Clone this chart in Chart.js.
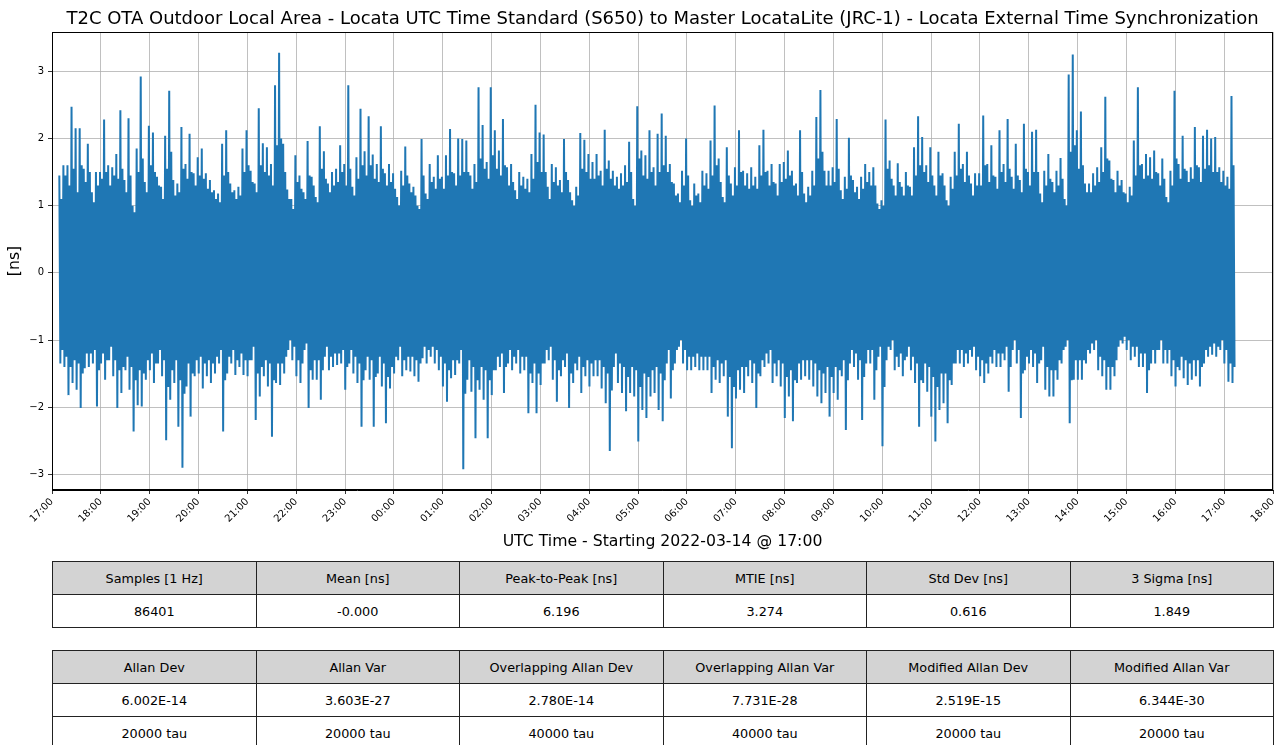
<!DOCTYPE html>
<html>
<head>
<meta charset="utf-8">
<script src="https://cdn.jsdelivr.net/npm/chart.js@4.4.1/dist/chart.umd.min.js"></script>
<style>
  body { margin: 0; background: #fff; font-family: "DejaVu Sans", sans-serif; }
  #wrap { position: relative; width: 1277px; height: 552px; }
  table { position: absolute; left: 52px; width: 1222px; border-collapse: collapse; table-layout: fixed; font-size: 12.8px; color: #000; }
  td { border: 1px solid #222; text-align: center; height: 32px; padding: 0; }
  tr.head td { background: #d3d3d3; }
</style>
</head>
<body>
<div id="wrap"><canvas id="chart" width="1277" height="552"></canvas></div>
<table id="t1" style="top:561px"></table>
<table id="t2" style="top:650px"></table>
<script>
// time axis: hours since 2022-03-14 17:00, one tick per hour
const xTickLabels = ['17:00','18:00','19:00','20:00','21:00','22:00','23:00','00:00','01:00','02:00','03:00','04:00','05:00',
  '06:00','07:00','08:00','09:00','10:00','11:00','12:00','13:00','14:00','15:00','16:00','17:00','18:00'];
const yTickValues = [-3, -2, -1, 0, 1, 2, 3];

// record starts 9 min after 17:00; trace read in 5 minute bins
const startMinute = 9;
const binMinutes = 5;

// highest excursion in each bin [ns]
const binHigh = [
  1.45, 1.6, 1.6, 2.47, 2.15, 2.15, 1.55, 1.92, 1.2, 1.5,
  1.5, 2.28, 1.6, 1.57, 1.77, 2.42, 1.38, 2.3, 1.0, 1.85,
  2.92, 1.35, 2.19, 2.09, 1.43, 1.28, 2.04, 2.71, 1.38, 1.33,
  2.17, 1.62, 2.07, 1.48, 1.72, 1.85, 1.48, 1.38, 1.23, 1.18,
  1.92, 2.12, 1.33, 1.23, 1.28, 1.85, 2.12, 1.52, 1.33, 2.45,
  1.93, 1.87, 1.62, 2.79, 3.274, 1.92, 1.24, 1.1, 1.75, 1.45,
  1.2, 1.96, 1.43, 1.13, 2.18, 1.81, 1.33, 1.5, 1.55, 1.9,
  1.62, 2.79, 1.28, 1.72, 2.44, 1.81, 2.33, 1.76, 1.62, 2.18,
  1.48, 1.62, 1.48, 1.13, 1.52, 1.88, 1.33, 1.28, 1.0, 1.99,
  1.18, 1.62, 1.43, 1.75, 1.43, 1.75, 2.14, 1.48, 2.0,
  1.99, 1.97, 1.45, 1.62, 2.76, 2.2, 1.65, 2.76, 2.12, 1.82,
  2.29, 1.57, 1.62, 1.23, 1.5, 1.43, 1.4, 1.77, 2.5, 2.09,
  2.06, 1.28, 1.62, 1.57, 1.38, 1.99, 1.38, 1.08, 1.28, 2.08,
  1.98, 1.77, 1.65, 1.77, 1.52, 2.13, 1.67, 1.52, 1.43, 1.48,
  1.6, 1.95, 1.1, 2.48, 1.82, 1.75, 2.12, 1.57, 2.07,
  2.37, 2.04, 1.62, 1.33, 1.18, 1.52, 2.0, 1.08, 1.33, 1.18,
  1.52, 1.48, 1.97, 2.49, 1.7, 1.13, 1.87, 1.33, 1.57, 2.12,
  1.52, 1.48, 1.57, 1.43, 1.9, 2.13, 1.52, 1.62, 1.33, 1.62,
  1.65, 1.82, 1.52, 1.33, 2.12, 1.18, 1.28, 1.52, 2.32, 2.72,
  1.52, 1.52, 1.57, 2.29, 1.23, 1.43, 2.01, 1.38, 1.28,
  1.43, 1.62, 1.5, 1.57, 1.03, 1.08, 2.28, 1.67, 1.3, 1.63,
  1.28, 1.5, 1.28, 1.87, 2.33, 2.02, 1.6, 1.87, 1.3, 1.8,
  1.48, 1.08, 1.43, 1.8, 2.22, 1.62, 1.8, 1.33, 1.48, 1.48,
  2.34, 1.62, 1.9, 1.43, 2.12, 1.62, 2.29, 1.43, 1.92, 1.38,
  2.22, 1.5, 2.1, 2.13, 1.18, 1.52, 1.77, 1.35, 1.52,
  1.71, 1.1, 2.95, 3.25, 2.12, 2.4, 1.33, 1.33, 1.48, 1.57,
  1.87, 2.62, 1.67, 1.38, 1.52, 1.38, 1.18, 1.28, 1.97, 2.76,
  1.62, 1.77, 1.72, 1.82, 1.48, 1.7, 1.13, 1.52, 2.71, 1.62,
  2.04, 1.52, 1.57, 2.17, 1.57, 2.04, 2.13, 2.0, 2.02, 1.57,
  1.52, 1.43, 2.63
];

// lowest excursion in each bin [ns]
const binLow = [
  -1.35, -1.4, -1.82, -1.64, -1.74, -2.01, -1.42, -1.4, -1.35, -1.99,
  -1.35, -1.59, -1.3, -1.54, -2.01, -1.79, -1.45, -1.74, -2.36, -1.97,
  -1.99, -1.59, -1.45, -1.64, -1.35, -1.54, -2.49, -1.89, -1.64, -2.29,
  -2.9, -1.69, -2.14, -1.54, -1.5, -1.72, -1.54, -1.64, -1.5, -1.35,
  -2.36, -1.5, -1.35, -1.52, -1.4, -1.52, -1.54, -1.3, -2.19, -1.84,
  -1.54, -1.69, -2.44, -1.64, -1.67, -1.5, -1.15, -1.3, -1.54, -1.64,
  -1.15, -2.01, -1.59, -1.59, -1.89, -1.25, -1.45, -1.4, -1.37, -1.35,
  -1.74, -1.35, -1.5, -1.64, -2.29, -1.45, -1.59, -2.29, -1.5, -1.69,
  -2.24, -1.72, -1.5, -1.3, -1.54, -1.45, -1.47, -1.54, -1.62, -1.27,
  -1.35, -1.25, -1.35, -1.45, -1.69, -1.92, -1.57, -1.52, -1.35,
  -2.922, -1.59, -1.77, -2.46, -1.74, -1.89, -2.46, -1.82, -1.45, -1.4,
  -1.79, -1.35, -1.45, -1.35, -1.5, -1.45, -2.09, -1.64, -2.09, -1.67,
  -1.35, -1.3, -1.59, -1.92, -1.54, -1.4, -2.01, -1.64, -1.45, -1.79,
  -1.54, -1.69, -1.54, -1.54, -1.72, -1.94, -2.65, -1.4, -1.64, -1.79,
  -2.06, -1.79, -1.84, -2.51, -2.04, -2.16, -1.84, -1.79, -2.04,
  -2.21, -1.35, -1.87, -1.35, -1.1, -1.35, -1.45, -1.45, -1.4, -1.45,
  -1.45, -1.45, -1.79, -1.59, -1.64, -1.54, -2.14, -2.61, -1.87, -1.74,
  -1.79, -1.54, -1.64, -2.01, -1.54, -1.4, -1.35, -1.64, -1.54, -1.69,
  -2.16, -1.84, -2.21, -1.64, -1.59, -1.54, -1.59, -1.69, -1.84, -1.94,
  -1.79, -2.14, -1.79, -1.89, -1.54, -2.34, -1.35, -1.4, -1.59,
  -2.19, -1.35, -1.35, -1.89, -1.25, -2.58, -1.3, -1.15, -1.45, -1.4,
  -1.54, -1.25, -1.45, -1.64, -2.29, -1.64, -1.77, -2.14, -2.51, -2.04,
  -1.94, -2.24, -1.67, -1.35, -1.35, -1.4, -1.35, -1.25, -1.45, -1.54,
  -1.64, -1.5, -1.35, -1.4, -1.4, -1.3, -1.77, -1.15, -1.35, -2.16,
  -1.45, -1.35, -1.4, -1.64, -1.3, -1.74, -1.84, -1.84, -1.59,
  -1.35, -1.1, -2.24, -1.59, -1.59, -1.59, -1.35, -1.2, -1.15, -1.45,
  -1.54, -1.74, -1.74, -1.54, -1.1, -1.05, -1.15, -1.3, -1.25, -1.4,
  -1.4, -1.79, -1.35, -1.35, -1.15, -1.35, -1.35, -1.54, -1.69, -1.45,
  -1.57, -1.67, -1.59, -1.54, -1.69, -1.35, -1.25, -1.22, -1.25, -1.15,
  -1.35, -1.62, -1.64
];

// next-highest excursion in each bin (the dense fringe) [ns]
const binHigh2 = [
  1.1, 1.45, 1.3, 1.55, 1.2, 1.6, 1.35, 1.5, 1.05, 1.3,
  1.4, 1.5, 1.3, 1.45, 1.4, 1.55, 1.2, 1.45, 0.9, 1.5,
  1.7, 1.2, 1.6, 1.5, 1.3, 1.1, 1.55, 1.8, 1.15, 1.2,
  1.55, 1.4, 1.5, 1.3, 1.45, 1.4, 1.25, 1.2, 1.1, 1.05,
  1.45, 1.5, 1.2, 1.1, 1.15, 1.5, 1.6, 1.35, 1.2, 1.6,
  1.5, 1.45, 1.3, 1.9, 2.0, 1.5, 1.1, 0.95, 1.35, 1.25,
  1.1, 1.45, 1.3, 1.05, 1.55, 1.4, 1.2, 1.3, 1.35, 1.5,
  1.3, 1.55, 1.15, 1.4, 1.6, 1.45, 1.6, 1.4, 1.35, 1.55,
  1.3, 1.35, 1.25, 1.0, 1.3, 1.45, 1.2, 1.15, 0.95, 1.45,
  1.1, 1.35, 1.25, 1.4, 1.25, 1.45, 1.5, 1.3, 1.45,
  1.5, 1.5, 1.25, 1.35, 1.7, 1.55, 1.4, 1.75, 1.55, 1.45,
  1.6, 1.3, 1.35, 1.1, 1.3, 1.25, 1.2, 1.4, 1.65, 1.5,
  1.5, 1.1, 1.35, 1.3, 1.2, 1.5, 1.2, 1.0, 1.15, 1.55,
  1.5, 1.4, 1.4, 1.45, 1.3, 1.55, 1.4, 1.3, 1.25, 1.3,
  1.35, 1.5, 1.0, 1.7, 1.45, 1.4, 1.5, 1.3, 1.5,
  1.6, 1.5, 1.35, 1.15, 1.05, 1.3, 1.45, 1.0, 1.15, 1.05,
  1.3, 1.25, 1.45, 1.6, 1.35, 1.05, 1.45, 1.15, 1.3, 1.5,
  1.3, 1.25, 1.3, 1.25, 1.45, 1.5, 1.3, 1.35, 1.15, 1.35,
  1.4, 1.45, 1.3, 1.15, 1.5, 1.05, 1.15, 1.3, 1.7, 1.8,
  1.3, 1.3, 1.35, 1.55, 1.1, 1.25, 1.45, 1.2, 1.1,
  1.25, 1.35, 1.3, 1.3, 0.95, 1.0, 1.55, 1.4, 1.15, 1.35,
  1.15, 1.3, 1.15, 1.45, 1.6, 1.5, 1.35, 1.45, 1.15, 1.45,
  1.3, 1.0, 1.25, 1.45, 1.55, 1.35, 1.45, 1.15, 1.3, 1.3,
  1.6, 1.35, 1.45, 1.25, 1.5, 1.35, 1.55, 1.25, 1.45, 1.2,
  1.55, 1.3, 1.5, 1.5, 1.05, 1.3, 1.4, 1.2, 1.3,
  1.4, 1.0, 1.8, 1.9, 1.55, 1.6, 1.2, 1.2, 1.3, 1.35,
  1.5, 1.7, 1.4, 1.2, 1.3, 1.2, 1.05, 1.15, 1.45, 1.6,
  1.4, 1.45, 1.4, 1.5, 1.3, 1.4, 1.05, 1.3, 1.7, 1.4,
  1.55, 1.35, 1.4, 1.6, 1.35, 1.55, 1.6, 1.5, 1.5, 1.35,
  1.3, 1.25, 1.6
];

// next-lowest excursion in each bin [ns]
const binLow2 = [
  -1.15, -1.25, -1.4, -1.3, -1.35, -1.5, -1.2, -1.2, -1.15, -1.45,
  -1.2, -1.3, -1.1, -1.3, -1.45, -1.4, -1.25, -1.4, -1.6, -1.45,
  -1.5, -1.3, -1.2, -1.35, -1.15, -1.3, -1.7, -1.45, -1.3, -1.6,
  -1.8, -1.35, -1.5, -1.3, -1.25, -1.35, -1.3, -1.35, -1.25, -1.15,
  -1.6, -1.25, -1.15, -1.3, -1.2, -1.3, -1.3, -1.1, -1.5, -1.4,
  -1.3, -1.35, -1.6, -1.35, -1.35, -1.25, -1.0, -1.1, -1.3, -1.35,
  -1.05, -1.45, -1.3, -1.3, -1.45, -1.1, -1.25, -1.2, -1.2, -1.15,
  -1.4, -1.15, -1.25, -1.35, -1.6, -1.25, -1.3, -1.55, -1.25, -1.35,
  -1.55, -1.4, -1.25, -1.1, -1.3, -1.25, -1.25, -1.3, -1.35, -1.1,
  -1.15, -1.1, -1.15, -1.25, -1.35, -1.45, -1.3, -1.3, -1.15,
  -1.8, -1.3, -1.4, -1.6, -1.4, -1.45, -1.6, -1.45, -1.25, -1.2,
  -1.4, -1.15, -1.25, -1.15, -1.25, -1.25, -1.5, -1.35, -1.5, -1.35,
  -1.15, -1.1, -1.3, -1.45, -1.3, -1.2, -1.5, -1.35, -1.25, -1.4,
  -1.3, -1.35, -1.3, -1.3, -1.4, -1.5, -1.75, -1.2, -1.35, -1.4,
  -1.55, -1.4, -1.45, -1.7, -1.5, -1.55, -1.45, -1.4, -1.5,
  -1.6, -1.15, -1.45, -1.15, -1.0, -1.15, -1.25, -1.25, -1.2, -1.25,
  -1.25, -1.25, -1.4, -1.3, -1.35, -1.3, -1.55, -1.7, -1.45, -1.4,
  -1.4, -1.3, -1.35, -1.5, -1.3, -1.2, -1.15, -1.35, -1.3, -1.35,
  -1.55, -1.45, -1.6, -1.35, -1.3, -1.3, -1.3, -1.35, -1.45, -1.5,
  -1.4, -1.55, -1.4, -1.45, -1.3, -1.6, -1.15, -1.2, -1.3,
  -1.55, -1.15, -1.15, -1.45, -1.1, -1.7, -1.1, -1.0, -1.25, -1.2,
  -1.3, -1.1, -1.25, -1.35, -1.6, -1.35, -1.4, -1.55, -1.7, -1.5,
  -1.5, -1.6, -1.35, -1.15, -1.15, -1.2, -1.15, -1.1, -1.25, -1.3,
  -1.35, -1.25, -1.15, -1.2, -1.2, -1.1, -1.4, -1.0, -1.15, -1.5,
  -1.25, -1.15, -1.2, -1.35, -1.1, -1.4, -1.45, -1.45, -1.3,
  -1.15, -1.0, -1.6, -1.3, -1.3, -1.3, -1.15, -1.05, -1.0, -1.25,
  -1.3, -1.4, -1.4, -1.3, -1.0, -0.95, -1.0, -1.1, -1.1, -1.2,
  -1.2, -1.45, -1.15, -1.15, -1.0, -1.15, -1.15, -1.3, -1.4, -1.25,
  -1.3, -1.35, -1.3, -1.3, -1.4, -1.15, -1.1, -1.05, -1.1, -1.0,
  -1.15, -1.35, -1.4
];

// statistics tables
const statHeaders = ['Samples [1 Hz]', 'Mean [ns]', 'Peak-to-Peak [ns]', 'MTIE [ns]', 'Std Dev [ns]', '3 Sigma [ns]'];
const statValues = ['86401', '-0.000', '6.196', '3.274', '0.616', '1.849'];
const allanHeaders = ['Allan Dev', 'Allan Var', 'Overlapping Allan Dev', 'Overlapping Allan Var', 'Modified Allan Dev', 'Modified Allan Var'];
const allanValues = ['6.002E-14', '3.603E-27', '2.780E-14', '7.731E-28', '2.519E-15', '6.344E-30'];
const allanTau = ['20000 tau', '20000 tau', '40000 tau', '40000 tau', '20000 tau', '20000 tau'];

function fillTable(id, rows) {
  const t = document.getElementById(id);
  rows.forEach((cells, r) => {
    const tr = document.createElement('tr');
    if (r === 0) tr.className = 'head';
    cells.forEach(c => {
      const td = document.createElement('td');
      td.textContent = c;
      tr.appendChild(td);
    });
    t.appendChild(tr);
  });
}
fillTable('t1', [statHeaders, statValues]);
fillTable('t2', [allanHeaders, allanValues, allanTau]);

// trace: high, low, second high, second low within each bin
const trace = [];
const quarter = binMinutes / 4 / 60;
binHigh.forEach((v, i) => {
  const t0 = (startMinute + i * binMinutes) / 60;
  trace.push({ x: t0, y: v });
  trace.push({ x: t0 + quarter, y: binLow[i] });
  trace.push({ x: t0 + 2 * quarter, y: binHigh2[i] });
  trace.push({ x: t0 + 3 * quarter, y: binLow2[i] });
});

const frame = {
  id: 'frame',
  afterDatasetsDraw(chart) {
    const a = chart.chartArea, ctx = chart.ctx;
    ctx.save();
    ctx.strokeStyle = '#000';
    ctx.lineWidth = 1;
    ctx.strokeRect(a.left + 0.5, a.top + 0.5, a.right - a.left - 1, a.bottom - a.top - 1);
    ctx.restore();
  }
};

new Chart(document.getElementById('chart'), {
  type: 'line',
  data: {
    datasets: [
      { data: trace, borderWidth: 2, pointRadius: 0, borderColor: '#1f77b4', fill: false, tension: 0 }
    ]
  },
  options: {
    responsive: false,
    animation: false,
    layout: { padding: 0 },
    plugins: {
      legend: { display: false },
      tooltip: { enabled: false },
      title: {
        display: true,
        fullSize: false,
        text: 'T2C OTA Outdoor Local Area - Locata UTC Time Standard (S650) to Master LocataLite (JRC-1) - Locata External Time Synchronization',
        color: '#000',
        font: { family: 'DejaVu Sans', size: 18, weight: 'normal' },
        padding: { top: 9, bottom: 1.4 }
      }
    },
    scales: {
      x: {
        type: 'linear',
        min: 0,
        max: xTickLabels.length - 1,
        afterBuildTicks: s => { s.ticks = xTickLabels.map((l, i) => ({ value: i })); },
        afterFit: s => { s.height = 62; s.paddingLeft = 0; s.paddingRight = 4; },
        ticks: {
          autoSkip: false, maxRotation: 45, minRotation: 45, padding: 2,
          color: '#000', font: { family: 'DejaVu Sans', size: 10 },
          callback: v => xTickLabels[v]
        },
        grid: { color: '#b0b0b0', lineWidth: 0.8, tickColor: '#000', tickLength: 4 },
        border: { color: '#000', width: 1 },
        title: {
          display: true, text: 'UTC Time - Starting 2022-03-14 @ 17:00', color: '#000',
          font: { family: 'DejaVu Sans', size: 15.7 }, padding: { top: 0, bottom: 1 }
        }
      },
      y: {
        min: -3.232,
        max: 3.584,
        afterBuildTicks: s => { s.ticks = yTickValues.map(v => ({ value: v })); },
        afterFit: s => { s.width = 52; },
        ticks: {
          color: '#000', padding: 4, font: { family: 'DejaVu Sans', size: 10 },
          callback: v => (v < 0 ? '\u2212' : '') + Math.abs(v)
        },
        grid: { color: '#b0b0b0', lineWidth: 0.8, tickColor: '#000', tickLength: 4 },
        border: { color: '#000', width: 1 },
        title: {
          display: true, text: '[ns]', color: '#000',
          font: { family: 'DejaVu Sans', size: 15.7 }, padding: { top: 6, bottom: 0 }
        }
      }
    }
  },
  plugins: [frame]
});
</script>
</body>
</html>
